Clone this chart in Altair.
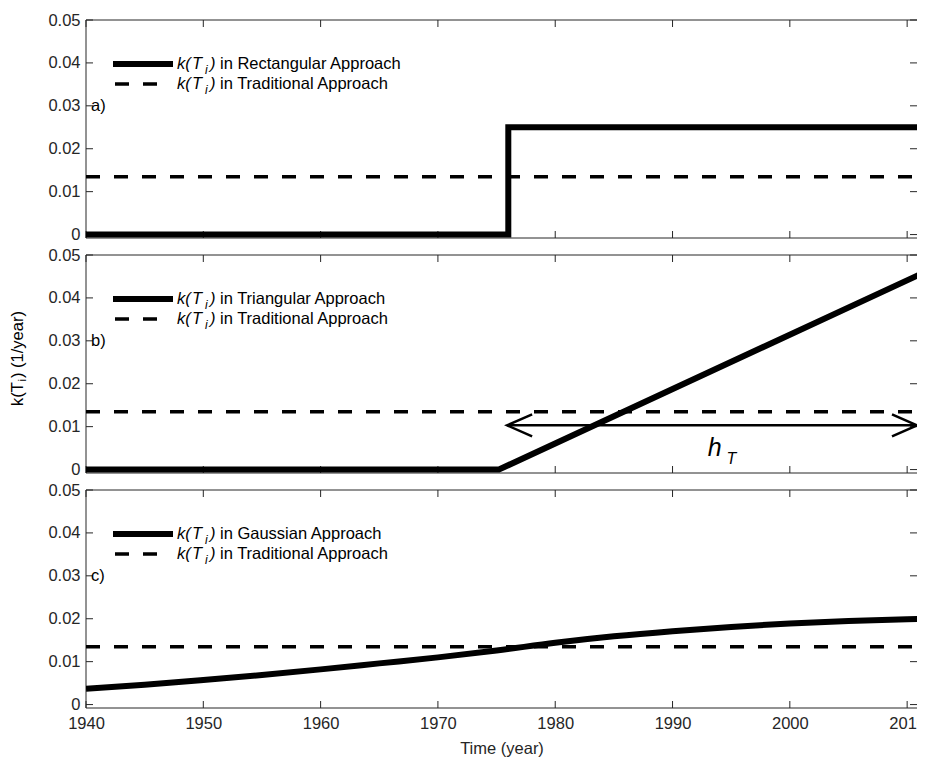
import altair as alt
import pandas as pd

FONT = "Liberation Sans"
AX = "#262626"

W, H = 831, 218
X_MIN, X_MAX = 1940, 2010.84
Y_MIN, Y_MAX = -0.0008, 0.05

x_ticks = [1940, 1950, 1960, 1970, 1980, 1990, 2000, 2010]
y_ticks = [0, 0.01, 0.02, 0.03, 0.04, 0.05]

trad_t = [1940, 2012]
trad_k = [0.0135, 0.0135]

rect_t = [1940, 1976, 1976, 2012]
rect_k = [0, 0, 0.025, 0.025]

tri_t = [1940, 1975.2, 2011.5]
tri_k = [0, 0, 0.0460]

gauss_t = [1940, 1945, 1950, 1955, 1960, 1965, 1970, 1975, 1980, 1985, 1990,
           1995, 2000, 2005, 2010, 2011.5]
gauss_k = [0.0037, 0.0046, 0.0057, 0.0069, 0.0082, 0.0096, 0.0110, 0.0126,
           0.0144, 0.0159, 0.0171, 0.0181, 0.0189, 0.0195, 0.0199, 0.0200]

arrow_t = [1975.9, 2010.84]
arrow_k = 0.0103

xs = alt.Scale(domain=[X_MIN, X_MAX], nice=False, zero=False)
ys = alt.Scale(domain=[Y_MIN, Y_MAX], nice=False, zero=False)

LF = 16.5  # legend / annotation font size


def xenc(show):
    if show:
        ax = alt.Axis(values=x_ticks, format="d", ticks=False, domain=False,
                      grid=False, labelPadding=7, labelFlush=False,
                      labelOverlap=False, labelFontSize=16.5, labelFont=FONT,
                      labelColor=AX, title="Time (year)", titlePadding=9,
                      titleFontSize=16.5, titleFont=FONT, titleColor=AX,
                      titleFontWeight="normal")
    else:
        ax = None
    return alt.X("t:Q", scale=xs, axis=ax)


def yenc():
    return alt.Y("k:Q", scale=ys,
                 axis=alt.Axis(values=y_ticks, format=".2~f", ticks=False,
                               domain=False, grid=False, labelPadding=6,
                               labelFlush=False, labelOverlap=False,
                               labelFontSize=16.5, labelFont=FONT,
                               labelColor=AX, title=None))


ONE = pd.DataFrame({"d": [0]})


def txt(s, x, y, size=LF, italic=False, angle=None, baseline="middle"):
    kw = dict(text=s, fontSize=size, font=FONT, color="black", align="left",
              baseline=baseline, fontStyle="italic" if italic else "normal")
    if angle is not None:
        kw["angle"] = angle
    return alt.Chart(ONE).mark_text(**kw).encode(x=alt.value(x), y=alt.value(y))


def legend_text(name, y):
    return [
        txt("k(", 91, y, italic=True),
        txt("T", 106, y, italic=True),
        txt("i", 119, y + 6, size=12, italic=True),
        txt(")", 124, y, italic=True),
        txt("in " + name + " Approach", 134, y),
    ]


def panel(t, k, name, tag, show_x, extra=None):
    xe = xenc(show_x)
    ye = yenc()
    main = alt.Chart(pd.DataFrame({"t": t, "k": k})).mark_line(
        color="black", strokeWidth=6, clip=True, strokeJoin="miter",
        interpolate="monotone" if name == "Gaussian" else "linear"
    ).encode(x=xe, y=ye)
    trad = alt.Chart(pd.DataFrame({"t": trad_t, "k": trad_k})).mark_line(
        color="black", strokeWidth=3.5, strokeDash=[14, 14], clip=True
    ).encode(x=xe, y=ye)
    xt = pd.DataFrame({"t": x_ticks})
    yt = pd.DataFrame({"k": y_ticks})
    tick_b = alt.Chart(xt).mark_rule(color=AX, strokeWidth=1).encode(
        x=xe, y=alt.value(H), y2=alt.value(H - 7))
    tick_t = alt.Chart(xt).mark_rule(color=AX, strokeWidth=1).encode(
        x=xe, y=alt.value(0), y2=alt.value(7))
    tick_l = alt.Chart(yt).mark_rule(color=AX, strokeWidth=1).encode(
        y=ye, x=alt.value(0), x2=alt.value(7))
    tick_r = alt.Chart(yt).mark_rule(color=AX, strokeWidth=1).encode(
        y=ye, x=alt.value(W), x2=alt.value(W - 7))
    fr_l = alt.Chart(ONE).mark_rule(color=AX, strokeWidth=1).encode(
        x=alt.value(0), y=alt.value(0), y2=alt.value(H))
    fr_t = alt.Chart(ONE).mark_rule(color=AX, strokeWidth=1).encode(
        x=alt.value(0), x2=alt.value(W), y=alt.value(0))
    fr_b = alt.Chart(ONE).mark_rule(color=AX, strokeWidth=1).encode(
        x=alt.value(0), x2=alt.value(W), y=alt.value(H))
    leg1 = alt.Chart(ONE).mark_rule(color="black", strokeWidth=6).encode(
        x=alt.value(27), x2=alt.value(87), y=alt.value(44))
    leg2 = alt.Chart(ONE).mark_rule(color="black", strokeWidth=3.5,
                                    strokeDash=[14, 14]).encode(
        x=alt.value(29), x2=alt.value(72), y=alt.value(64))
    tagc = alt.Chart(pd.DataFrame({"t": [1940], "k": [0.03]})).mark_text(
        text=tag, fontSize=LF, font=FONT, color="black", align="left",
        baseline="middle", dx=5).encode(x=xe, y=ye)
    layers = [fr_l, fr_t, fr_b, tick_b, tick_t, tick_l, tick_r, trad, main,
              leg1, leg2, tagc]
    layers += legend_text(name, 44)
    layers += legend_text("Traditional", 64)
    if extra:
        layers += extra(xe, ye)
    return alt.layer(*layers).properties(width=W, height=H)


def extra_b(xe, ye):
    adf = pd.DataFrame({"t": arrow_t, "k": [arrow_k, arrow_k]})
    line = alt.Chart(adf).mark_line(color="black", strokeWidth=2.5, clip=True
                                    ).encode(x=xe, y=ye)
    lh = alt.Chart(pd.DataFrame({"t": arrow_t[:1], "k": [arrow_k]})).mark_point(
        shape="M1,-0.44L0,0L1,0.44", size=2500, filled=False, color="black",
        strokeWidth=2.5, opacity=1).encode(x=xe, y=ye)
    rh = alt.Chart(pd.DataFrame({"t": arrow_t[1:], "k": [arrow_k]})).mark_point(
        shape="M-1,-0.44L0,0L-1,0.44", size=2500, filled=False, color="black",
        strokeWidth=2.5, opacity=1).encode(x=xe, y=ye)
    h = alt.Chart(pd.DataFrame({"t": [1993.0], "k": [0.0032]})).mark_text(
        text="h", fontSize=25, font=FONT, fontStyle="italic", color="black",
        align="left", baseline="alphabetic").encode(x=xe, y=ye)
    tt = alt.Chart(pd.DataFrame({"t": [1994.6], "k": [0.0013]})).mark_text(
        text="T", fontSize=16, font=FONT, fontStyle="italic", color="black",
        align="left", baseline="alphabetic").encode(x=xe, y=ye)
    yt = [
        txt("k(T", -68.5, 151, angle=270),
        txt("i", -63, 126.5, size=11.5, angle=270),
        txt(") (1/year)", -68.5, 123, angle=270),
    ]
    return [line, lh, rh, h, tt] + yt


pa = panel(rect_t, rect_k, "Rectangular", "a)", False)
pb = panel(tri_t, tri_k, "Triangular", "b)", False, extra=extra_b)
pc = panel(gauss_t, gauss_k, "Gaussian", "c)", True)

chart = alt.vconcat(pa, pb, pc, spacing=17, bounds="flush").properties(
    padding={"left": 1, "top": 4, "right": -9, "bottom": 0},
    background="white"
).configure_view(stroke=None)

chart.save("out.html", embed_options={"renderer": "svg", "actions": False})
